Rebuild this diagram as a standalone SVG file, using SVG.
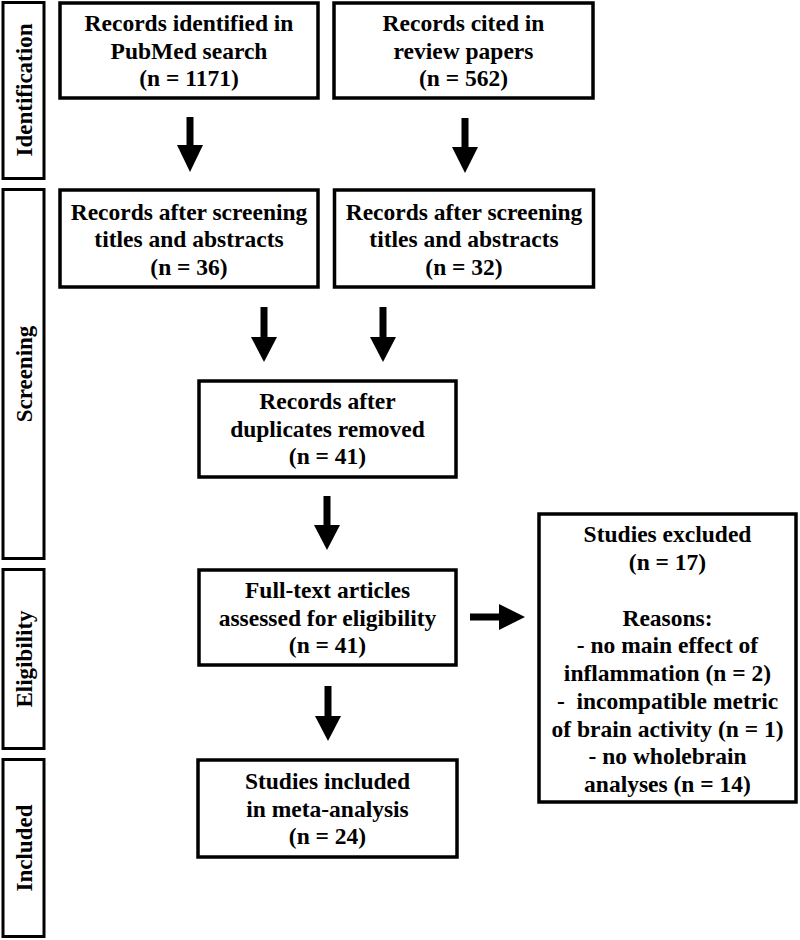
<svg xmlns="http://www.w3.org/2000/svg" width="800" height="940" viewBox="0 0 800 940">
<style>
.box{fill:#fff;stroke:#000;stroke-width:3.5}
.side{fill:#fff;stroke:#000;stroke-width:3}
.t{font-family:'Liberation Serif','Times New Roman',Tinos,'DejaVu Serif',serif;font-weight:bold;font-size:23.5px;fill:#000;text-anchor:middle}
.s{font-family:'Liberation Serif','Times New Roman',Tinos,'DejaVu Serif',serif;font-weight:bold;font-size:23px;fill:#000;text-anchor:middle}
.shaft{stroke:#000;stroke-width:7;fill:none}
.head{fill:#000}
</style>
<rect width="800" height="940" fill="#fff"/>
<g id="side-identification"><rect class="side" x="3" y="2.5" width="41" height="176"/><text class="s" transform="translate(32,90) rotate(-90)">Identification</text></g>
<g id="side-screening"><rect class="side" x="3" y="189.5" width="41" height="369"/><text class="s" transform="translate(32,374) rotate(-90)">Screening</text></g>
<g id="side-eligibility"><rect class="side" x="3" y="569.5" width="41" height="179"/><text class="s" transform="translate(32,659) rotate(-90)">Eligibility</text></g>
<g id="side-included"><rect class="side" x="3" y="759.5" width="41" height="177"/><text class="s" transform="translate(32,848) rotate(-90)">Included</text></g>

<g id="pubmed"><rect class="box" x="60" y="3" width="258" height="95"/>
<text class="t" x="189" y="31">Records identified in</text><text class="t" x="189" y="58.5">PubMed search</text><text class="t" x="189" y="86">(n = 1171)</text></g>
<g id="review"><rect class="box" x="334" y="3" width="259" height="95"/>
<text class="t" x="463.5" y="31">Records cited in</text><text class="t" x="463.5" y="58.5">review papers</text><text class="t" x="463.5" y="86">(n = 562)</text></g>
<g id="screen-left"><rect class="box" x="60" y="190" width="258" height="97"/>
<text class="t" x="189" y="219.5">Records after screening</text><text class="t" x="189" y="247">titles and abstracts</text><text class="t" x="189" y="274.5">(n = 36)</text></g>
<g id="screen-right"><rect class="box" x="334.5" y="190" width="259" height="97"/>
<text class="t" x="464" y="219.5">Records after screening</text><text class="t" x="464" y="247">titles and abstracts</text><text class="t" x="464" y="274.5">(n = 32)</text></g>
<g id="duplicates"><rect class="box" x="199" y="381" width="257" height="96"/>
<text class="t" x="327.5" y="409">Records after</text><text class="t" x="327.5" y="436.5">duplicates removed</text><text class="t" x="327.5" y="464">(n = 41)</text></g>
<g id="fulltext"><rect class="box" x="199" y="570" width="257" height="95"/>
<text class="t" x="327.5" y="598">Full-text articles</text><text class="t" x="327.5" y="625.5">assessed for eligibility</text><text class="t" x="327.5" y="653">(n = 41)</text></g>
<g id="included"><rect class="box" x="198" y="760" width="259" height="97"/>
<text class="t" x="327.5" y="789">Studies included</text><text class="t" x="327.5" y="816.5">in meta-analysis</text><text class="t" x="327.5" y="844">(n = 24)</text></g>
<g id="excluded"><rect class="box" x="539" y="514" width="257" height="288"/>
<text class="t" x="667.5" y="542">Studies excluded</text>
<text class="t" x="667.5" y="570">(n = 17)</text>
<text class="t" x="667.5" y="625.5">Reasons:</text>
<text class="t" x="667.5" y="653">- no main effect of</text>
<text class="t" x="667.5" y="681">inflammation (n = 2)</text>
<text class="t" x="667.5" y="708.5" style="white-space:pre">-  incompatible metric</text>
<text class="t" x="667.5" y="736.5">of brain activity (n = 1)</text>
<text class="t" x="667.5" y="764">- no wholebrain</text>
<text class="t" x="667.5" y="792">analyses (n = 14)</text></g>

<g id="connectors">
<line class="shaft" x1="190" y1="117" x2="190" y2="147"/><polygon class="head" points="177,145 203,145 190,172"/>
<line class="shaft" x1="465" y1="118" x2="465" y2="149"/><polygon class="head" points="452,147 478,147 465,173"/>
<line class="shaft" x1="264" y1="307" x2="264" y2="339"/><polygon class="head" points="251,337 277,337 264,362"/>
<line class="shaft" x1="383" y1="307" x2="383" y2="339"/><polygon class="head" points="370,337 396,337 383,362"/>
<line class="shaft" x1="327" y1="496" x2="327" y2="527"/><polygon class="head" points="314,525 340,525 327,550"/>
<line class="shaft" x1="328" y1="686" x2="328" y2="718"/><polygon class="head" points="315,716 341,716 328,741"/>
<line class="shaft" x1="470" y1="617" x2="501" y2="617"/><polygon class="head" points="499,604 499,630 525,617"/>
</g>
</svg>
